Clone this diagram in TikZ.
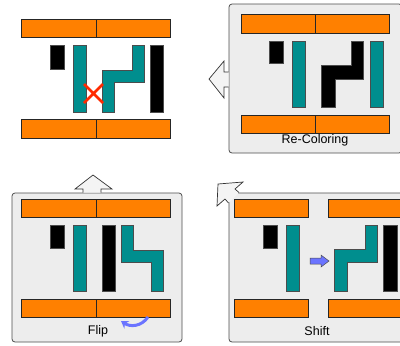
\documentclass[tikz,border=0pt]{standalone}
\usepackage{fontspec}
\setmainfont{Liberation Sans}
\usetikzlibrary{arrows.meta}
\definecolor{barorange}{HTML}{FF8000}
\definecolor{tealblock}{HTML}{008E8E}
\definecolor{panelgray}{HTML}{EDEDED}
\definecolor{flowblue}{HTML}{6B74FF}
\definecolor{crossred}{HTML}{FF2A00}
\tikzset{
  panel/.style={draw=black!70, fill=panelgray, rounded corners=3pt, line width=0.8pt},
  bar/.style={draw=black!85, fill=barorange, line width=0.7pt},
  blk/.style={draw=black!70, fill=black, line width=0.5pt},
  tl/.style={draw=black!70, fill=tealblock, line width=0.6pt},
  hollow/.style={draw=black!80, fill=panelgray!60!white, line width=0.7pt, line join=miter},
  lbl/.style={font=\fontsize{12.5}{14}\selectfont, inner sep=0pt}
}
\begin{document}
\begin{tikzpicture}[x=1pt, y=-1pt]
  \useasboundingbox (0,0) rectangle (400,346);
  \clip (0,0) rectangle (400,346);

%Panels
  \draw[panel] (229,4) rectangle (402,153);
  \draw[panel] (12,193) rectangle (182,342);
  \draw[panel] (229,193) rectangle (440,342);

%Hollow arrows between panels
  \draw[hollow] (228.5,72) -- (224,72) -- (224,61) -- (209,79) -- (224,98) -- (224,87) -- (228.5,87);
  \draw[hollow] (83,192.5) -- (83,189) -- (75,189) -- (93,175) -- (112,189) -- (101,189) -- (101,192.5);
  \draw[hollow] (239,192.5) -- (235,189) -- (243,182) -- (218,184) -- (217,206) -- (225,199) -- (228.5,203);

%Result (top left)
  \draw[bar] (21,19) rectangle (96,37);   \draw[bar] (96,19) rectangle (170,37);
  \draw[bar] (21,119) rectangle (96,138); \draw[bar] (96,119) rectangle (170,138);
  \draw[blk] (50,45) rectangle (64,69);
  \draw[tl] (73,45) rectangle (86,112);
  \draw[tl] (102,112) -- (102,70) -- (132,70) -- (132,45) -- (144,45) -- (144,82) -- (114,82) -- (114,112) -- cycle;
  \draw[blk] (150,45) rectangle (163,112);
  \draw[crossred, line width=2.6pt] (84,84) -- (103,103) (84,103) -- (103,84);

%Re-Coloring panel
  \draw[bar] (241,14) rectangle (315,33);  \draw[bar] (315,14) rectangle (389,33);
  \draw[bar] (241,115) rectangle (315,133); \draw[bar] (315,115) rectangle (389,133);
  \draw[blk] (269,41) rectangle (283,63);
  \draw[tl] (292,41) rectangle (305,107);
  \draw[blk] (321,107) -- (321,65) -- (351,65) -- (351,41) -- (363,41) -- (363,79) -- (335,79) -- (335,107) -- cycle;
  \draw[tl] (370,41) rectangle (383,107);
  \node[lbl] at (315,140) (recolor) {Re-Coloring};

%Flip panel
  \draw[bar] (21,199) rectangle (96,217);  \draw[bar] (96,199) rectangle (170,217);
  \draw[bar] (21,299) rectangle (96,317);  \draw[bar] (96,299) rectangle (170,317);
  \draw[blk] (50,225) rectangle (64,248);
  \draw[tl] (73,225) rectangle (86,291);
  \draw[blk] (102,225) rectangle (115,291);
  \draw[tl] (121,225) -- (133,225) -- (133,250) -- (163,250) -- (163,291) -- (151,291) -- (151,262) -- (121,262) -- cycle;
  \draw[flowblue, line width=3pt, -{Stealth[length=7pt,width=9pt]}] (148,317) .. controls (141,327) and (130,327) .. (121,321);
  \node[lbl] at (98,331) (flip) {Flip};

%Shift panel
  \draw[bar] (234,199) rectangle (308,217);  \draw[bar] (328,199) rectangle (430,217);
  \draw[bar] (234,299) rectangle (308,317);  \draw[bar] (328,299) rectangle (430,317);
  \draw[blk] (263,225) rectangle (277,248);
  \draw[tl] (286,225) rectangle (299,291);
  \draw[draw=black!70, fill=flowblue, line width=0.5pt] (310,258) -- (321,258) -- (321,255) -- (329,261) -- (321,267) -- (321,264) -- (310,264) -- cycle;
  \draw[tl] (334,291) -- (334,249) -- (365,249) -- (365,225) -- (377,225) -- (377,262) -- (347,262) -- (347,291) -- cycle;
  \draw[blk] (383,225) rectangle (397,291);
  \node[lbl] at (317,331) (shift) {Shift};

\end{tikzpicture}
\end{document}
